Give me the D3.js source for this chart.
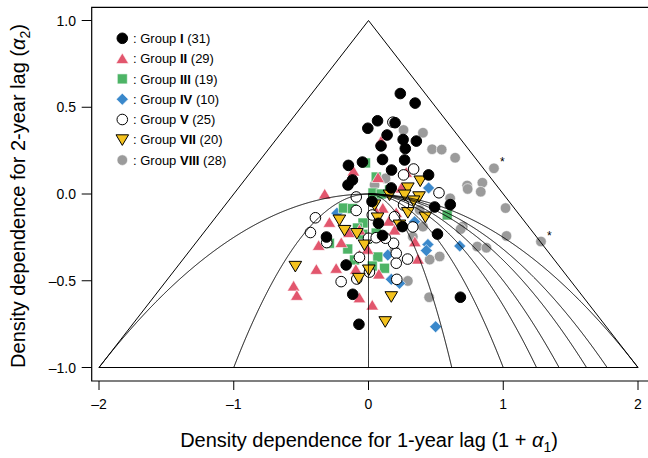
<!DOCTYPE html>
<html>
<head>
<meta charset="utf-8">
<script src="https://cdn.jsdelivr.net/npm/d3@7"></script>
<style>
  body { margin: 0; background: #fff; }
  svg { font-family: "Liberation Sans", Arial, Helvetica, sans-serif; }
</style>
</head>
<body>
<div id="chart"></div>
<script>
// (1 + a1, a2) estimates, one array per group
const groupI = [
  [0.236, 0.579], [0.346, 0.524], [0.067, 0.422], [-0.005, 0.379], [0.197, 0.411],
  [0.138, 0.340], [0.257, 0.314], [0.355, 0.305], [0.093, 0.277], [0.273, 0.262],
  [0.104, 0.199], [0.268, 0.196], [-0.149, 0.165], [-0.045, 0.184], [0.171, 0.138],
  [0.446, 0.110], [-0.119, 0.081], [-0.152, 0.052], [0.169, 0.035], [0.026, -0.043],
  [0.491, -0.075], [0.607, -0.061], [0.074, -0.169], [0.251, -0.188], [0.512, -0.231],
  [-0.312, -0.248], [0.104, -0.239], [-0.166, -0.409], [-0.117, -0.578], [0.682, -0.595],
  [-0.071, -0.751]
];
const groupII = [
  [-0.112, 0.133], [0.071, 0.095], [0.280, 0.125], [0.243, 0.035], [-0.325, 0.0],
  [0.106, -0.081], [0.206, -0.107], [-0.290, -0.163], [0.151, -0.156], [-0.145, -0.222],
  [-0.202, -0.280], [-0.370, -0.296], [-0.007, -0.318], [0.344, -0.275], [0.367, -0.375],
  [-0.387, -0.434], [-0.240, -0.428], [-0.094, -0.434], [-0.556, -0.530], [-0.532, -0.584],
  [-0.067, -0.598], [0.028, -0.640], [0.077, -0.461], [0.093, 0.305], [-0.067, -0.352],
  [0.119, -0.248], [0.057, -0.102], [-0.067, -0.207], [0.193, -0.207]
];
const groupIII = [
  [-0.022, 0.179], [0.057, 0.098], [0.033, 0.006], [0.094, 0.0], [-0.186, -0.081],
  [-0.119, -0.084], [0.584, -0.121], [-0.041, -0.167], [-0.010, -0.259], [-0.154, -0.317],
  [0.069, -0.363], [0.028, -0.415], [0.119, -0.428], [-0.290, -0.284], [-0.042, -0.232],
  [0.057, -0.225], [-0.082, -0.196], [0.156, 0.023], [-0.104, -0.380]
];
const groupIV = [
  [0.446, 0.035], [0.677, -0.300], [0.441, -0.291], [0.429, -0.326], [0.143, -0.352],
  [0.169, -0.492], [0.230, -0.515], [0.498, -0.765], [-0.234, -0.111], [0.342, -0.160]
];
const groupV = [
  [0.181, 0.414], [0.335, 0.144], [0.523, 0.007], [-0.091, -0.017], [-0.091, -0.095],
  [-0.394, -0.137], [-0.431, -0.222], [-0.310, -0.280], [0.329, -0.190], [0.206, -0.342],
  [0.186, -0.284], [0.206, -0.399], [0.210, -0.492], [-0.203, -0.505], [-0.087, -0.490],
  [-0.067, -0.365], [0.126, -0.255], [0.028, -0.121], [0.0, -0.255], [0.057, -0.252],
  [0.193, -0.131], [0.260, 0.110], [0.260, -0.063], [0.290, -0.375], [0.007, -0.450]
];
const groupVII = [
  [0.384, 0.075], [0.292, 0.035], [0.375, -0.016], [0.292, -0.107], [0.422, -0.133],
  [-0.178, -0.210], [-0.086, -0.228], [-0.543, -0.417], [0.169, -0.592], [0.124, -0.736],
  [0.002, -0.438], [-0.072, -0.486], [0.156, -0.006], [0.268, -0.006], [0.335, -0.040],
  [0.045, -0.063], [-0.216, -0.150], [-0.030, -0.294], [0.230, -0.179], [0.067, -0.138]
];
const groupVIII = [
  [0.260, 0.369], [0.404, 0.353], [0.472, 0.258], [0.543, 0.256], [0.643, 0.209],
  [0.931, 0.148], [0.732, 0.049], [0.845, 0.065], [0.833, 0.013], [0.736, 0.029],
  [1.017, -0.081], [0.606, -0.025], [0.699, -0.188], [0.684, -0.202], [1.024, -0.242],
  [1.280, -0.274], [0.807, -0.303], [0.875, -0.310], [0.126, 0.090], [0.404, -0.188],
  [0.329, -0.246], [0.454, -0.378], [0.528, -0.360], [0.450, -0.595], [0.292, -0.501],
  [0.193, -0.323], [0.379, -0.092], [0.045, 0.052]
];
// points lying outside the triangle, flagged with a star
const starred = [[0.931, 0.148], [1.280, -0.274]];

// periods of the contour curves inside the complex-root region
const periods = [3, 4, 5, 6, 7, 8, 10, 13];

const xTicks = [-2, -1, 0, 1, 2];
const xTickLabels = ['\u20132', '\u20131', '0', '1', '2'];
const yTicks = [1, 0.5, 0, -0.5, -1];
const yTickLabels = ['1.0', '0.5', '0.0', '\u20130.5', '\u20131.0'];

const groups = [
  { name: 'VIII', n: 28, data: groupVIII, shape: 'circle', fill: '#9b9b9b', stroke: '#ffffff' },
  { name: 'IV', n: 10, data: groupIV, shape: 'diamond', fill: '#3a88cb', stroke: '#ffffff' },
  { name: 'III', n: 19, data: groupIII, shape: 'square', fill: '#4db466', stroke: '#ffffff' },
  { name: 'II', n: 29, data: groupII, shape: 'triangle', fill: '#e2566d', stroke: '#ffffff' },
  { name: 'V', n: 25, data: groupV, shape: 'circle', fill: '#ffffff', stroke: '#000000' },
  { name: 'VII', n: 20, data: groupVII, shape: 'triangleDown', fill: '#f4c21e', stroke: '#000000' },
  { name: 'I', n: 31, data: groupI, shape: 'circle', fill: '#000000', stroke: '#000000' },
];
const legendOrder = ['I', 'II', 'III', 'IV', 'V', 'VII', 'VIII'];

const W = 648, H = 458;
const box = { left: 91.7, top: 7.3, right: 652, bottom: 381 };

const x = d3.scaleLinear().domain([-2, 2]).range([99, 638]);
const y = d3.scaleLinear().domain([-1, 1]).range([367.5, 20.5]);

function shapePath(shape) {
  switch (shape) {
    case 'circle': return 'M5.3,0A5.3,5.3 0 1,1 -5.3,0A5.3,5.3 0 1,1 5.3,0Z';
    case 'square': return 'M-5,-5H5V5H-5Z';
    case 'diamond': return 'M0,-6L6,0L0,6L-6,0Z';
    case 'triangle': return 'M0,-5.6L6.3,5L-6.3,5Z';
    case 'triangleDown': return 'M-6.3,-5L6.3,-5L0,5.6Z';
  }
}

const svg = d3.select('#chart')
  .append('svg')
  .attr('width', W)
  .attr('height', H);

// box open on the right side
svg.append('path')
  .attr('d', `M${box.right},${box.top}H${box.left}V${box.bottom}H${box.right}`)
  .attr('fill', 'none')
  .attr('stroke', '#000')
  .attr('stroke-width', 1.2);

// x axis ticks
const xAxis = svg.append('g');
xAxis.selectAll('line')
  .data(xTicks)
  .enter()
  .append('line')
    .attr('x1', (d) => x(d)).attr('x2', (d) => x(d))
    .attr('y1', box.bottom).attr('y2', box.bottom + 9)
    .attr('stroke', '#000');
xAxis.selectAll('text')
  .data(xTicks)
  .enter()
  .append('text')
    .attr('x', (d) => x(d))
    .attr('y', 409)
    .attr('text-anchor', 'middle')
    .style('font-size', '14px')
    .text((d, i) => xTickLabels[i]);

// y axis ticks
const yAxis = svg.append('g');
yAxis.selectAll('line')
  .data(yTicks)
  .enter()
  .append('line')
    .attr('x1', box.left - 10).attr('x2', box.left)
    .attr('y1', (d) => y(d)).attr('y2', (d) => y(d))
    .attr('stroke', '#000');
yAxis.selectAll('text')
  .data(yTicks)
  .enter()
  .append('text')
    .attr('x', 76)
    .attr('y', (d) => y(d) + 5)
    .attr('text-anchor', 'end')
    .style('font-size', '14px')
    .text((d, i) => yTickLabels[i]);

// axis titles
const xTitle = svg.append('text')
  .attr('x', 369)
  .attr('y', 447)
  .attr('text-anchor', 'middle')
  .style('font-size', '20px');
xTitle.append('tspan').text('Density dependence for 1-year lag (1 + ');
xTitle.append('tspan').style('font-style', 'italic').text('\u03b1');
xTitle.append('tspan').attr('dy', 5).style('font-size', '14px').text('1');
xTitle.append('tspan').attr('dy', -5).text(')');

const yTitle = svg.append('text')
  .attr('transform', 'translate(25,196) rotate(-90)')
  .attr('text-anchor', 'middle')
  .style('font-size', '20px');
yTitle.append('tspan').text('Density dependence for 2-year lag (');
yTitle.append('tspan').style('font-style', 'italic').text('\u03b1');
yTitle.append('tspan').attr('dy', 5).style('font-size', '14px').text('2');
yTitle.append('tspan').attr('dy', -5).text(')');

// points
const pts = svg.append('g');
groups.forEach((g) => {
  pts.append('g')
    .selectAll('path')
    .data(g.data)
    .enter()
    .append('path')
      .attr('transform', (d) => `translate(${x(d[0])},${y(d[1])})`)
      .attr('d', shapePath(g.shape))
      .attr('fill', g.fill)
      .attr('stroke', g.stroke)
      .attr('stroke-width', g.stroke === '#000000' ? 1 : 0.6);
});

svg.append('g')
  .selectAll('text')
  .data(starred)
  .enter()
  .append('text')
    .attr('x', (d) => x(d[0]) + 6)
    .attr('y', (d) => y(d[1]) - 2)
    .style('font-size', '12px')
    .text('*');

// triangle of stationarity, parabola and period contours
const lines = svg.append('g')
  .attr('fill', 'none')
  .attr('stroke', '#000')
  .attr('stroke-width', 1);

lines.append('path')
  .attr('d', d3.line()([[x(-2), y(-1)], [x(0), y(1)], [x(2), y(-1)], [x(-2), y(-1)]]));

const a2s = d3.range(0, 1.0001, 0.002).map((t) => -t * t);
const curve = d3.line().x((d) => x(d[0])).y((d) => y(d[1]));
const coefs = [-2, 2].concat(periods.map((T) => 2 * Math.cos(2 * Math.PI / T)));
coefs.forEach((c) => {
  lines.append('path')
    .attr('d', curve(a2s.map((a) => [c * Math.sqrt(-a), a])));
});

// legend
const legend = svg.append('g');
legendOrder.forEach((name, i) => {
  const g = groups.find((d) => d.name === name);
  const ly = 38.3 + i * 20.3;
  legend.append('path')
    .attr('transform', `translate(122.3,${ly})`)
    .attr('d', shapePath(g.shape))
    .attr('fill', g.fill)
    .attr('stroke', g.stroke)
    .attr('stroke-width', g.stroke === '#000000' ? 1 : 0.6);
  const t = legend.append('text')
    .attr('x', 133)
    .attr('y', ly + 4.6)
    .style('font-size', '13px');
  t.append('tspan').text(': Group ');
  t.append('tspan').style('font-weight', 'bold').text(g.name);
  t.append('tspan').text(` (${g.n})`);
});
</script>
</body>
</html>
